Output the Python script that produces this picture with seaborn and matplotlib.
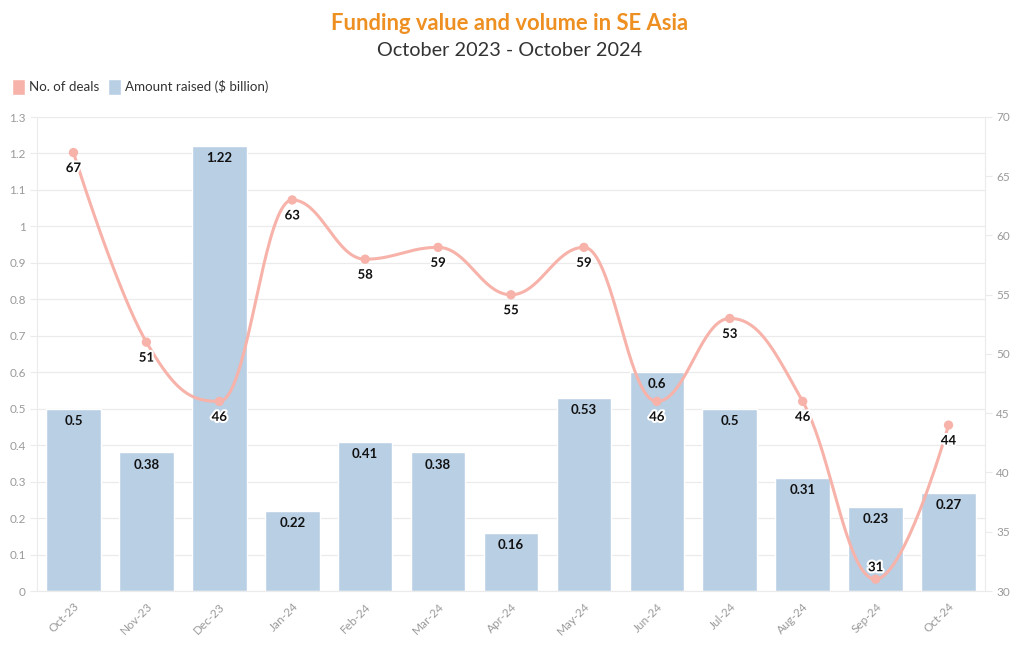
import numpy as np
import pandas as pd
import seaborn as sns
import matplotlib
matplotlib.use('Agg')
from matplotlib import pyplot as plt
from matplotlib import patheffects as pe
from matplotlib.patches import Patch


"""
Data
"""
months = ['Oct-23', 'Nov-23', 'Dec-23', 'Jan-24', 'Feb-24', 'Mar-24', 'Apr-24',
          'May-24', 'Jun-24', 'Jul-24', 'Aug-24', 'Sep-24', 'Oct-24']
amount_raised = [0.5, 0.38, 1.22, 0.22, 0.41, 0.38, 0.16, 0.53, 0.6, 0.5,
                 0.31, 0.23, 0.27]
no_of_deals = [67, 51, 46, 63, 58, 59, 55, 59, 46, 53, 46, 31, 44]

BAR_COLOR = '#b9cfe4'
LINE_COLOR = '#f7b2a9'
GRID_COLOR = '#ebebeb'
TICK_COLOR = '#9a9a9a'


"""
Smooth spline like the source chart (bezier through the points)
"""
def spline_path(xs, ys, smoothing=1.5, n=40):
   xs = np.asarray(xs, float)
   ys = np.asarray(ys, float)
   m = len(xs)
   left = [(xs[i], ys[i]) for i in range(m)]
   right = [(xs[i], ys[i]) for i in range(m)]
   d = smoothing + 1
   for i in range(1, m - 1):
      x, y = xs[i], ys[i]
      lx = (smoothing * x + xs[i - 1]) / d
      ly = (smoothing * y + ys[i - 1]) / d
      rx = (smoothing * x + xs[i + 1]) / d
      ry = (smoothing * y + ys[i + 1]) / d
      corr = ((ry - ly) * (rx - x)) / (rx - lx) + y - ry
      ly += corr
      ry += corr
      if ly > max(ys[i - 1], y):
         ly = max(ys[i - 1], y)
         ry = 2 * y - ly
      elif ly < min(ys[i - 1], y):
         ly = min(ys[i - 1], y)
         ry = 2 * y - ly
      if ry > max(ys[i + 1], y):
         ry = max(ys[i + 1], y)
         ly = 2 * y - ry
      elif ry < min(ys[i + 1], y):
         ry = min(ys[i + 1], y)
         ly = 2 * y - ry
      left[i] = (lx, ly)
      right[i] = (rx, ry)
   t = np.linspace(0, 1, n)[:, None]
   segs = []
   for i in range(1, m):
      p0 = np.array([xs[i - 1], ys[i - 1]])
      p1 = np.array(right[i - 1])
      p2 = np.array(left[i])
      p3 = np.array([xs[i], ys[i]])
      seg = ((1 - t) ** 3) * p0 + 3 * ((1 - t) ** 2) * t * p1 \
         + 3 * (1 - t) * t ** 2 * p2 + t ** 3 * p3
      segs.append(seg if i == 1 else seg[1:])
   pts = np.vstack(segs)
   return pts[:, 0], pts[:, 1]


"""
Plot
"""
sns.set_style('white')
plt.rcParams['font.family'] = ['Lato', 'DejaVu Sans']

df = pd.DataFrame({'month': months, 'amount': amount_raised,
                   'deals': no_of_deals})

fig = plt.figure(figsize=(10.2, 6.5), dpi=100)
ax = fig.add_axes([37 / 1020, 59 / 650, 948 / 1020, 474 / 650])

sns.barplot(data=df, x='month', y='amount', color=BAR_COLOR, width=0.75,
            saturation=1, ax=ax, zorder=2)
ax.set_ylim(0, 1.3)
ax.set_xlim(-0.5, len(months) - 0.5)
ax.set_yticks(np.arange(0, 1.31, 0.1))
ax.set_yticklabels(['0'] + [f'{v:g}' for v in np.arange(0.1, 1.31, 0.1).round(1)])
ax.yaxis.grid(True, color=GRID_COLOR, linewidth=0.9, zorder=0)
ax.set_axisbelow(True)
ax.set_xlabel('')
ax.set_ylabel('')
ax.tick_params(axis='y', colors=TICK_COLOR, labelsize=8.5, length=5,
               width=0.8, color=GRID_COLOR, pad=3)
ax.tick_params(axis='x', colors=TICK_COLOR, labelsize=8.5, length=5,
               width=0.8, color=GRID_COLOR, pad=2)
plt.setp(ax.get_xticklabels(), rotation=45, ha='right', rotation_mode='anchor')
for side in ['top', 'right']:
   ax.spines[side].set_visible(False)
ax.spines['left'].set_color(GRID_COLOR)
ax.spines['bottom'].set_color(GRID_COLOR)

for i, v in enumerate(amount_raised):
   ax.text(i, v - 0.017, f'{v:g}', ha='center', va='top', fontsize=9.5,
           fontweight='bold', color='#111111', zorder=6)

ax2 = ax.twinx()
ax2.set_ylim(30, 70)
ax2.set_yticks(np.arange(30, 71, 5))
ax2.tick_params(axis='y', colors=TICK_COLOR, labelsize=8.5, length=5,
                width=0.8, color=GRID_COLOR, pad=3)
for side in ['top', 'left', 'bottom']:
   ax2.spines[side].set_visible(False)
ax2.spines['right'].set_color(GRID_COLOR)

sx, sy = spline_path(range(len(months)), no_of_deals)
ax2.plot(sx, sy, color=LINE_COLOR, linewidth=2.2, zorder=3)
sns.scatterplot(x=list(range(len(months))), y=no_of_deals, color=LINE_COLOR,
                s=45, edgecolor='none', ax=ax2, zorder=4)
for i, v in enumerate(no_of_deals):
   # labels sit under the point unless that would leave the plot area
   if v - 3 < 30:
      ax2.text(i, v + 0.5, str(v), ha='center', va='bottom', fontsize=9.5,
               fontweight='bold', color='#111111', zorder=6,
               path_effects=[pe.withStroke(linewidth=3, foreground='white')])
   else:
      ax2.text(i, v - 0.8, str(v), ha='center', va='top', fontsize=9.5,
               fontweight='bold', color='#111111', zorder=6,
               path_effects=[pe.withStroke(linewidth=3, foreground='white')])

fig.text(0.5, 1 - 23 / 650, 'Funding value and volume in SE Asia', ha='center',
         va='center', fontsize=15.8, fontweight='bold', color='#ee8f21')
fig.text(0.5, 1 - 50 / 650, 'October 2023 - October 2024', ha='center',
         va='center', fontsize=14.3, color='#333333')

handles = [Patch(facecolor=LINE_COLOR, label='No. of deals'),
           Patch(facecolor=BAR_COLOR, label='Amount raised ($ billion)')]
fig.legend(handles=handles, loc='center left', bbox_to_anchor=(0.0, 1 - 87 / 650),
           ncol=2, frameon=False, fontsize=9.6, handlelength=1.0,
           handleheight=1.4, handletextpad=0.3, columnspacing=0.6,
           labelcolor='#333333')

fig.savefig('out.png', dpi=100)
